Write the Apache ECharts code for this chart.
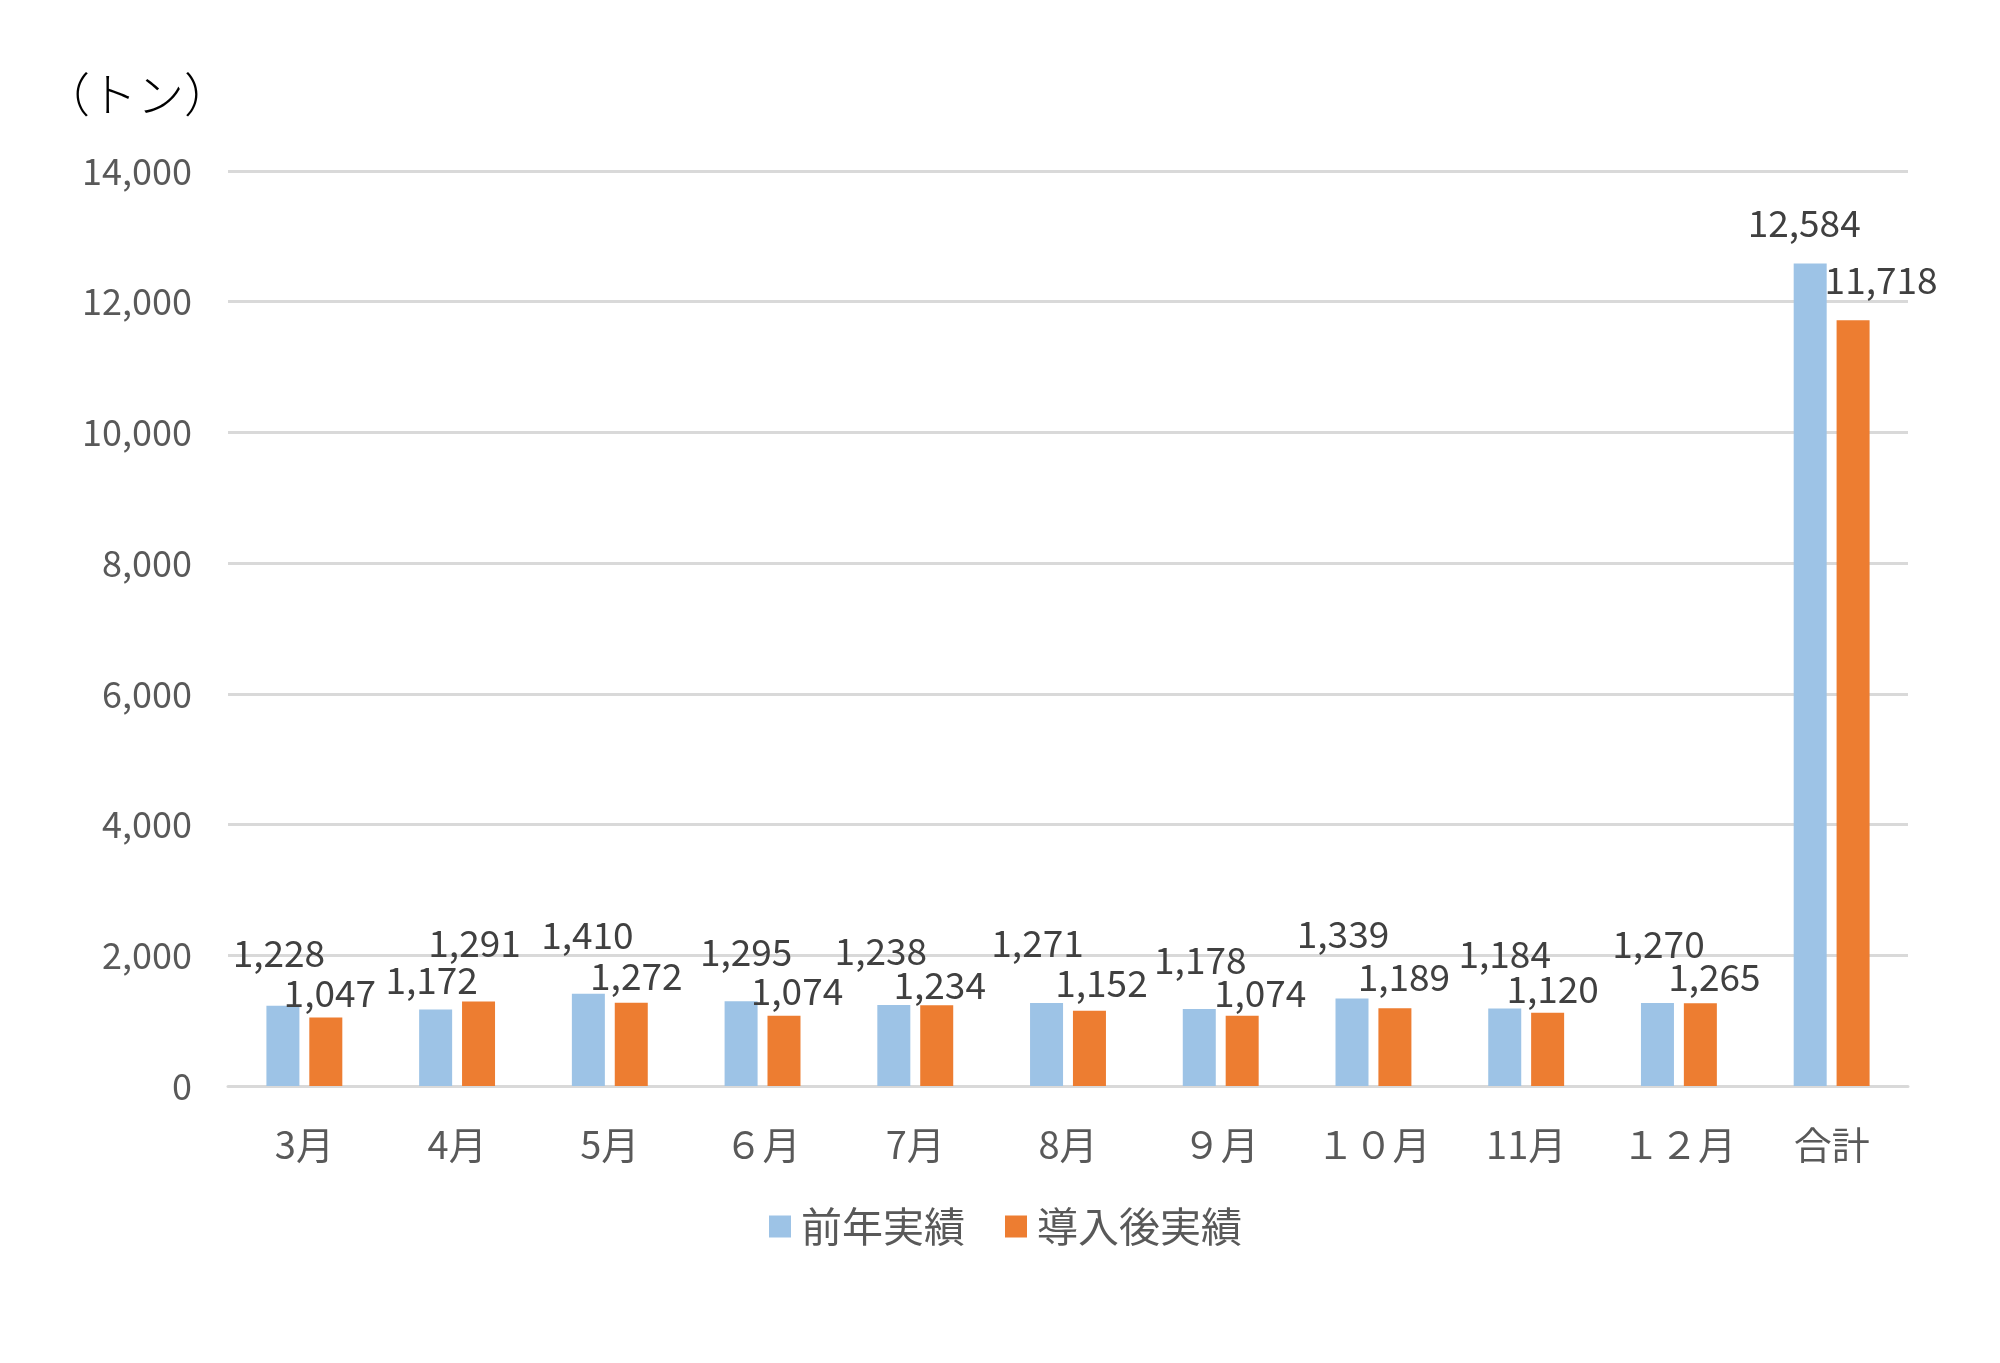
<!DOCTYPE html>
<html><head><meta charset="utf-8">
<style>html,body{margin:0;padding:0;background:#fff}#c{width:2000px;height:1363px}</style>
<script src="https://cdn.jsdelivr.net/npm/echarts@6/dist/echarts.min.js"></script>
</head><body><div id="c"></div>
<script>
// ---- data ----
const categories = ['3月','4月','5月','６月','7月','8月','９月','１０月','11月','１２月','合計'];
const prevYear = [1228,1172,1410,1295,1238,1271,1178,1339,1184,1270,12584];
const afterIntro = [1047,1291,1272,1074,1234,1152,1074,1189,1120,1265,11718];
const seriesNames = ['前年実績','導入後実績'];
const unitLabel = '（トン）';
const yTicks = {min:0, max:14000, interval:2000};

// ---- label nudges (style only, manual label placement as in the original) ----
const nudgePrev = [[-4,-29],[-4,-6],[-1,-35],[5,-26],[-13,-31],[-9,-36],[1,-26],[-9,-41],[0,-31],[1,-36],[-6,-17]];
const nudgeAfter = [[4,-1],[-4,-35],[5,-3],[13,-1],[3,3],[12,-4],[18,1],[9,-8],[5,0],[14,-3],[28,-17]];

const FONT = '"Noto Sans CJK JP", "Noto Sans", sans-serif';
const chart = echarts.init(document.getElementById('c'));
const fmt = v => v.toLocaleString('en-US');
const build = (arr, nudges) => arr.map((v,i)=>({value:v, label:{offset:nudges[i]}}));

chart.setOption({
  animation:false,
  textStyle:{fontFamily:FONT},
  graphic:[{type:'text', left:43, top:71, style:{text:unitLabel, fontSize:47, fill:'#000', fontFamily:FONT, fontWeight:300}}],
  grid:{left:228, right:92, top:171, bottom:277},
  legend:{
    data:seriesNames, bottom:111, left:764, itemWidth:22, itemHeight:22, itemGap:40,
    icon:'rect', textStyle:{fontSize:41, color:'#595959', fontFamily:FONT, padding:[0,0,0,5]}
  },
  xAxis:{
    type:'category', data:categories,
    axisLine:{lineStyle:{color:'#D9D9D9', width:3}},
    axisTick:{show:false},
    axisLabel:{fontSize:38, color:'#595959', margin:40, fontFamily:FONT}
  },
  yAxis:{
    type:'value', min:yTicks.min, max:yTicks.max, interval:yTicks.interval,
    axisLine:{show:false}, axisTick:{show:false},
    splitLine:{lineStyle:{color:'#D9D9D9', width:3}},
    axisLabel:{fontSize:36, color:'#595959', margin:36, formatter:v=>fmt(v), fontFamily:FONT}
  },
  series:[
    {
      name:seriesNames[0], type:'bar', barWidth:33, barGap:'30%',
      itemStyle:{color:'#9DC3E6'},
      label:{show:true, position:'top', fontSize:37, color:'#404040', formatter:p=>fmt(p.value), fontFamily:FONT},
      data:build(prevYear, nudgePrev)
    },
    {
      name:seriesNames[1], type:'bar', barWidth:33,
      itemStyle:{color:'#ED7D31'},
      label:{show:true, position:'top', fontSize:37, color:'#404040', formatter:p=>fmt(p.value), fontFamily:FONT},
      data:build(afterIntro, nudgeAfter)
    }
  ]
});
</script></body></html>
